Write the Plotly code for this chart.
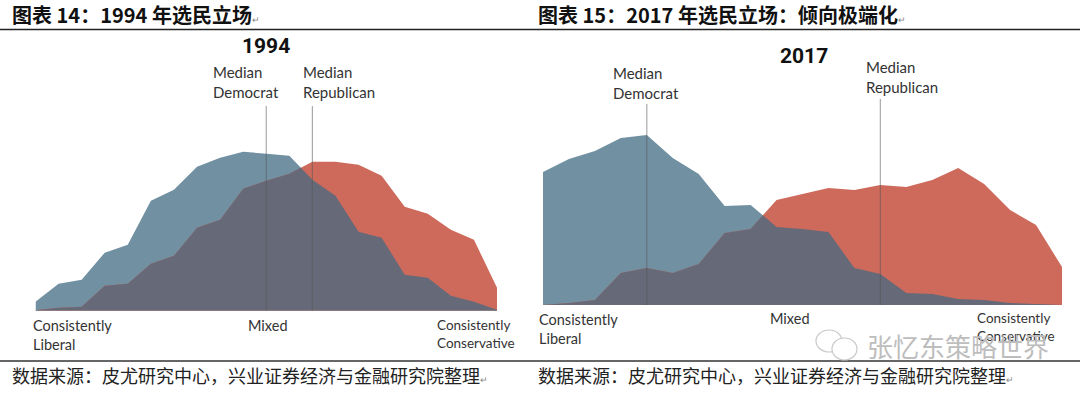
import numpy as np
import plotly.graph_objects as go

# ---------------- data ----------------
bins = list(range(21))  # ideological consistency scale: liberal -> conservative
dem_1994 = [9, 27, 31, 58, 66, 110, 121, 144, 153, 159, 157, 155, 131, 115, 79, 73, 36, 33, 15, 9, 1]
rep_1994 = [0.5, 3, 4, 25, 27, 47, 55, 83, 91, 122, 130, 137, 149, 149, 146, 135, 104, 97, 81, 71, 23]
dem_2017 = [133, 146, 154, 167, 170, 147, 131, 99, 100, 78, 76, 73, 37, 31, 12, 11, 6, 5, 2, 1, 0]
rep_2017 = [0, 2, 5, 32, 37, 32, 41, 72, 76, 105, 111, 117, 115, 120, 118, 125, 137, 121, 95, 80, 38]
median_1994 = {"dem": 10, "rep": 12}
median_2017 = {"dem": 4, "rep": 13}
axis_labels = ["Consistently<br>Liberal", "Mixed", "Consistently<br>Conservative"]

# ---------------- styles ----------------
W, H = 1080, 393
BLUE = "#7190A2"
RED = "#CE6A5C"
OVER = "#666A78"
FONT = "Lato, 'Open Sans', sans-serif"
CJK = "'Noto Sans CJK SC', sans-serif"


def px(x):
    return x / W


def py(y):
    return 1 - y / H


def overlap(x, a, b):
    """min(a, b) including segment crossing points."""
    xs, ys = [], []
    for i in range(len(x)):
        xs.append(x[i])
        ys.append(min(a[i], b[i]))
        if i < len(x) - 1:
            d0 = a[i] - b[i]
            d1 = a[i + 1] - b[i + 1]
            if d0 * d1 < 0:
                t = d0 / (d0 - d1)
                xc = x[i] + t * (x[i + 1] - x[i])
                yc = a[i] + t * (a[i + 1] - a[i])
                xs.append(xc)
                ys.append(yc)
    return xs, ys


fig = go.Figure()


def add_panel(dem, rep, xa, ya):
    fig.add_trace(go.Scatter(x=bins, y=dem, xaxis=xa, yaxis=ya, mode="lines",
                             line=dict(width=0, color=BLUE), fill="tozeroy",
                             fillcolor=BLUE, hoverinfo="skip", showlegend=False))
    fig.add_trace(go.Scatter(x=bins, y=rep, xaxis=xa, yaxis=ya, mode="lines",
                             line=dict(width=0, color=RED), fill="tozeroy",
                             fillcolor=RED, hoverinfo="skip", showlegend=False))
    ox, oy = overlap(bins, dem, rep)
    fig.add_trace(go.Scatter(x=ox, y=oy, xaxis=xa, yaxis=ya, mode="lines",
                             line=dict(width=0, color=OVER), fill="tozeroy",
                             fillcolor=OVER, hoverinfo="skip", showlegend=False))


add_panel(dem_1994, rep_1994, "x", "y")
add_panel(dem_2017, rep_2017, "x2", "y2")

# panel geometry (pixels)
L_X0, L_X1, L_BASE = 35.5, 497, 310.7
R_X0, R_X1, R_BASE = 543, 1062, 305

ax_common = dict(visible=False, fixedrange=True)
fig.update_layout(
    width=W, height=H, autosize=False,
    margin=dict(l=0, r=0, t=0, b=0),
    paper_bgcolor="white", plot_bgcolor="rgba(0,0,0,0)",
    xaxis=dict(domain=[px(L_X0), px(L_X1)], range=[0, 20], **ax_common),
    yaxis=dict(domain=[py(L_BASE), 1], range=[0, L_BASE], **ax_common),
    xaxis2=dict(domain=[px(R_X0), px(R_X1)], range=[0, 20], anchor="y2", **ax_common),
    yaxis2=dict(domain=[py(R_BASE), 1], range=[0, R_BASE], anchor="x2", **ax_common),
)

# median lines
LINE = dict(color="rgba(85,85,85,0.5)", width=1.2)
shapes = [
    dict(type="line", xref="x", yref="y", x0=median_1994["dem"], x1=median_1994["dem"],
         y0=0, y1=L_BASE - 106, line=LINE, layer="above"),
    dict(type="line", xref="x", yref="y", x0=median_1994["rep"], x1=median_1994["rep"],
         y0=0, y1=L_BASE - 106, line=LINE, layer="above"),
    dict(type="line", xref="x2", yref="y2", x0=median_2017["dem"], x1=median_2017["dem"],
         y0=0, y1=R_BASE - 104, line=LINE, layer="above"),
    dict(type="line", xref="x2", yref="y2", x0=median_2017["rep"], x1=median_2017["rep"],
         y0=0, y1=R_BASE - 99, line=LINE, layer="above"),
    # header and footer rules
    dict(type="line", xref="paper", yref="paper", x0=0, x1=1, y0=py(29.5), y1=py(29.5),
         line=dict(color="#222", width=1.5)),
    dict(type="line", xref="paper", yref="paper", x0=0, x1=1, y0=py(361), y1=py(361),
         line=dict(color="#333", width=1.5)),
    # wechat icon (watermark)
    dict(type="circle", xref="paper", yref="paper", x0=px(816), x1=px(842),
         y0=py(352), y1=py(330), line=dict(color="#c8c8c8", width=1.2)),
    dict(type="circle", xref="paper", yref="paper", x0=px(832), x1=px(857),
         y0=py(360), y1=py(338), line=dict(color="#c8c8c8", width=1.2), fillcolor="white"),
]
fig.update_layout(shapes=shapes)

ann = []


def text(x, y, s, size=15, color="#333", font=FONT, xanchor="left", yanchor="middle", align="left", **kw):
    ann.append(dict(x=px(x), y=py(y), xref="paper", yref="paper", text=s, showarrow=False,
                    xanchor=xanchor, yanchor=yanchor, align=align,
                    font=dict(size=size, color=color, family=font, **kw)))


RET = "<span style='font-size:9px;color:#888'>↵</span>"
# headers
text(10, 15, "<b>图表 14：1994 年选民立场</b>" + RET, size=20, color="#111", font=CJK)
text(536, 15, "<b>图表 15：2017 年选民立场：倾向极端化</b>" + RET, size=20, color="#111", font=CJK)
# footers
text(10, 375, "数据来源：皮尤研究中心，兴业证券经济与金融研究院整理" + RET, size=18, color="#222", font=CJK)
text(536, 375, "数据来源：皮尤研究中心，兴业证券经济与金融研究院整理" + RET, size=18, color="#222", font=CJK)

# panel titles
COND = "Roboto, 'Liberation Sans', sans-serif"
text(266, 46, "<b>1994</b>", size=21, color="#111", font=COND, xanchor="center")
text(804, 56, "<b>2017</b>", size=21, color="#111", font=COND, xanchor="center")

# median labels
text(211, 61, "Median<br>Democrat", size=15, yanchor="top")
text(301, 61, "Median<br>Republican", size=15, yanchor="top")
text(611, 62, "Median<br>Democrat", size=15, yanchor="top")
text(864, 56, "Median<br>Republican", size=15, yanchor="top")

# axis end labels
text(31, 315, axis_labels[0], size=14.5, yanchor="top")
text(268, 325, axis_labels[1], size=14.5, xanchor="center")
text(435, 315, axis_labels[2], size=13.5, yanchor="top")
text(537, 309, axis_labels[0], size=14.5, yanchor="top")
text(790, 318, axis_labels[1], size=14.5, xanchor="center")
text(975, 308, axis_labels[2], size=13.5, yanchor="top")

# watermark
text(865, 345, "张忆东策略世界", size=26, color="#bdbdbd", font=CJK)

fig.update_layout(annotations=ann)
fig.write_html("out.html", config={"displayModeBar": False},
               post_script="document.body.style.margin='0';")
